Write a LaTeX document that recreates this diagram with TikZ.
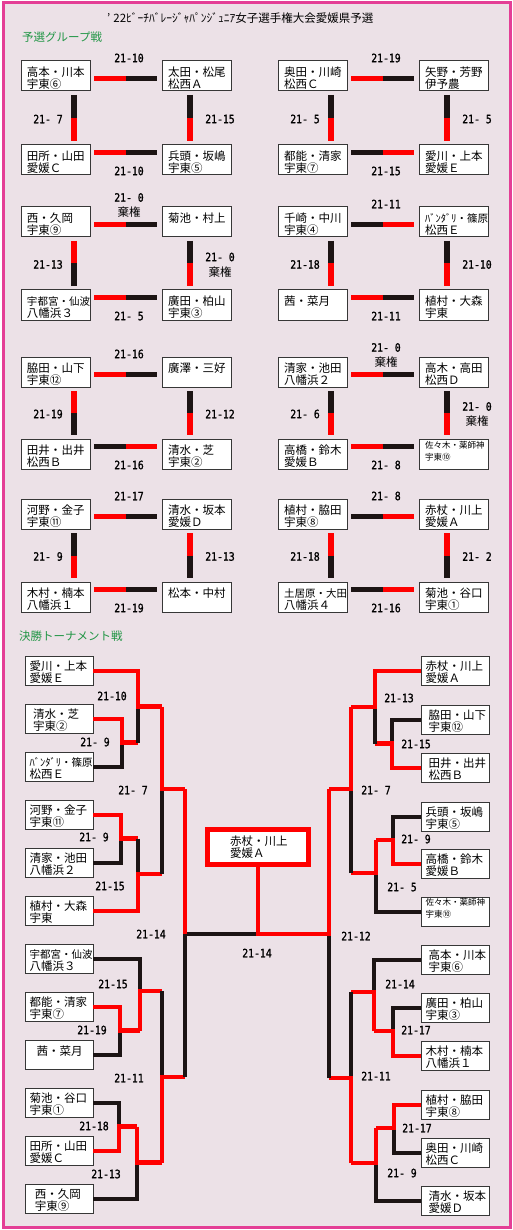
\documentclass[tikz,border=0pt]{standalone}
\usepackage{fontspec}
\setmainfont{Noto Sans CJK JP}
\newfontfamily\scf[FakeStretch=0.85,FakeBold=1.2]{DejaVu Sans Mono}
\usetikzlibrary{calc}
\definecolor{bgc}{RGB}{236,225,231}
\definecolor{framec}{RGB}{228,62,150}
\definecolor{grn}{RGB}{34,150,70}
\definecolor{rd}{RGB}{255,0,0}
\definecolor{bk}{RGB}{28,20,20}
\definecolor{boxc}{RGB}{55,55,55}
\newcommand\bxt[2]{\rule{0pt}{13pt}#1\\\mbox{}#2}
\newcommand\sml[1]{{\fontsize{10.5}{12}\selectfont #1}}
\newcommand\hpair[5]{%
  \coordinate (hA) at ($(#1.north east)+(4,#3)$);
  \coordinate (hB0) at ($(#2.north west)+(-5,0)$);
  \coordinate (hB) at (hA -| hB0);
  \coordinate (hM) at ($(hA)!0.5!(hB)$);
  \draw[bar,draw=#4] (hA) -- (hM);
  \draw[bar,draw=#5] (hM) -- (hB);}
\newcommand\vpair[5]{%
  \coordinate (vA) at ($(#1.south west)+(#3,4)$);
  \coordinate (vB0) at ($(#2.north west)+(0,-4)$);
  \coordinate (vB) at (vA |- vB0);
  \coordinate (vM) at ($(vA)!0.5!(vB)$);
  \draw[bar,draw=#4] (vA) -- (vM);
  \draw[bar,draw=#5] (vM) -- (vB);}
\tikzset{
  gbox/.style={draw=boxc, line width=1pt, fill=white, anchor=north west, outer sep=0pt,
    minimum height=30pt, text width=57pt, inner xsep=6pt, inner ysep=0pt, align=left,
    font=\fontsize{11.5}{12}\selectfont},
  tbox/.style={gbox, minimum height=29.5pt, text width=59pt, inner xsep=4.5pt},
  smallbox/.style={font=\fontsize{8.5}{12}\selectfont},
  sc/.style={font=\scf\fontsize{11.5}{12}\selectfont, inner sep=0pt},
  kk/.style={font=\fontsize{11.5}{12}\selectfont, inner sep=0pt},
  head/.style={font=\fontsize{11.5}{12}\selectfont, text=grn, anchor=west, inner sep=0pt},
  bar/.style={line width=5.5pt},
  win/.style={draw=rd, line width=4.5pt},
  lose/.style={draw=bk, line width=4.5pt},
}
\begin{document}
\begin{tikzpicture}[x=1pt,y=-1pt]
\useasboundingbox (0,0) rectangle (513,1230);
\draw[fill=bgc, draw=framec, line width=3pt] (3,3) rectangle (510,1227);

\node[anchor=west, inner sep=0pt, font=\fontsize{11.5}{12}\selectfont] (title) at (107,18)
  {’\hspace{3pt}22ﾋﾞｰﾁﾊﾞﾚｰｼﾞｬﾊﾟﾝｼﾞｭﾆｱ女子選手権大会愛媛県予選};
\node[head] (h1) at (22,37) {予選グループ戦};
\node[head] (h2) at (19,636) {決勝トーナメント戦};

% ---------------- group stage ----------------
% row 1 left
\node[gbox] (p11) at (21,61) {\bxt{高本・川本}{宇東⑥}};
\node[gbox] (p12) at (162,61) {\bxt{太田・松尾}{松西Ａ}};
\node[gbox] (p13) at (21,145) {\bxt{田所・山田}{愛媛Ｃ}};
\node[gbox] (p14) at (162,145) {\bxt{兵頭・坂嶋}{宇東⑤}};
\hpair{p11}{p12}{17.5}{rd}{bk}
\vpair{p11}{p13}{53}{bk}{rd}
\vpair{p12}{p14}{28}{bk}{rd}
\hpair{p13}{p14}{7.5}{rd}{bk}
\node[sc] (s11) at (129,58) {21-10};
\node[sc] (s12) at (48,119) {21- 7};
\node[sc] (s13) at (220,119) {21-15};
\node[sc] (s14) at (129,171) {21-10};
% row 1 right
\node[gbox] (q11) at (278,61) {\bxt{奥田・川崎}{松西Ｃ}};
\node[gbox] (q12) at (419,61) {\bxt{矢野・芳野}{伊予農}};
\node[gbox] (q13) at (278,145) {\bxt{都能・清家}{宇東⑦}};
\node[gbox] (q14) at (419,145) {\bxt{愛川・上本}{愛媛Ｅ}};
\hpair{q11}{q12}{17.5}{rd}{bk}
\vpair{q11}{q13}{53}{bk}{rd}
\vpair{q12}{q14}{28}{bk}{rd}
\hpair{q13}{q14}{7.5}{bk}{rd}
\node[sc] (t11) at (386,58) {21-19};
\node[sc] (t12) at (305,119) {21- 5};
\node[sc] (t13) at (477,119) {21- 5};
\node[sc] (t14) at (386,171) {21-15};
% row 2 left
\node[gbox] (p21) at (21,207) {\bxt{西・久岡}{宇東⑨}};
\node[gbox] (p22) at (162,207) {\bxt{菊池・村上}{}};
\node[gbox] (p23) at (21,290) {\bxt{\sml{宇都宮・仙波}}{八幡浜３}};
\node[gbox] (p24) at (162,290) {\bxt{廣田・柏山}{宇東③}};
\hpair{p21}{p22}{17.5}{rd}{bk}
\vpair{p21}{p23}{53}{rd}{bk}
\vpair{p22}{p24}{28}{bk}{rd}
\hpair{p23}{p24}{7.5}{rd}{bk}
\node[sc] (s21) at (129,197.5) {21- 0};
\node[kk] (k21) at (129,212.5) {棄権};
\node[sc] (s22) at (48,264.5) {21-13};
\node[sc] (s23) at (220,257) {21- 0};
\node[kk] (k23) at (220,272) {棄権};
\node[sc] (s24) at (129,316) {21- 5};
% row 2 right
\node[gbox] (q21) at (278,207) {\bxt{千崎・中川}{宇東④}};
\node[gbox] (q22) at (419,207) {\bxt{\sml{ﾊﾞﾝﾀﾞﾘ・篠原}}{松西Ｅ}};
\node[gbox] (q23) at (278,290) {\bxt{茜・菜月}{}};
\node[gbox] (q24) at (419,290) {\bxt{植村・大森}{宇東}};
\hpair{q21}{q22}{17.5}{bk}{rd}
\vpair{q21}{q23}{53}{bk}{rd}
\vpair{q22}{q24}{28}{bk}{rd}
\hpair{q23}{q24}{7.5}{rd}{bk}
\node[sc] (t21) at (386,204) {21-11};
\node[sc] (t22) at (305,264.5) {21-18};
\node[sc] (t23) at (477,264.5) {21-10};
\node[sc] (t24) at (386,316) {21-11};
% row 3 left
\node[gbox] (p31) at (21,357) {\bxt{脇田・山下}{宇東⑫}};
\node[gbox] (p32) at (162,357) {\bxt{廣澤・三好}{}};
\node[gbox] (p33) at (21,439) {\bxt{田井・出井}{松西Ｂ}};
\node[gbox] (p34) at (162,439) {\bxt{清水・芝}{宇東②}};
\hpair{p31}{p32}{17.5}{rd}{bk}
\vpair{p31}{p33}{53}{rd}{bk}
\vpair{p32}{p34}{28}{bk}{rd}
\hpair{p33}{p34}{7.5}{bk}{rd}
\node[sc] (s31) at (129,354) {21-16};
\node[sc] (s32) at (48,414) {21-19};
\node[sc] (s33) at (220,414) {21-12};
\node[sc] (s34) at (129,465) {21-16};
% row 3 right
\node[gbox] (q31) at (278,357) {\bxt{清家・池田}{八幡浜２}};
\node[gbox] (q32) at (419,357) {\bxt{高木・高田}{松西Ｄ}};
\node[gbox] (q33) at (278,439) {\bxt{高橋・鈴木}{愛媛Ｂ}};
\node[gbox,smallbox] (q34) at (419,439) {佐々木・薬師神\\宇東⑩\rule[-7pt]{0pt}{0pt}};
\hpair{q31}{q32}{17.5}{rd}{bk}
\vpair{q31}{q33}{53}{bk}{rd}
\vpair{q32}{q34}{28}{bk}{rd}
\hpair{q33}{q34}{7.5}{rd}{bk}
\node[sc] (t31) at (386,347.5) {21- 0};
\node[kk] (m31) at (386,362.5) {棄権};
\node[sc] (t32) at (305,414) {21- 6};
\node[sc] (t33) at (477,406.5) {21- 0};
\node[kk] (m33) at (477,421.5) {棄権};
\node[sc] (t34) at (386,465) {21- 8};
% row 4 left
\node[gbox] (p41) at (21,499) {\bxt{河野・金子}{宇東⑪}};
\node[gbox] (p42) at (162,499) {\bxt{清水・坂本}{愛媛Ｄ}};
\node[gbox] (p43) at (21,582) {\bxt{木村・楠本}{八幡浜１}};
\node[gbox] (p44) at (162,582) {\bxt{松本・中村}{}};
\hpair{p41}{p42}{17.5}{rd}{bk}
\vpair{p41}{p43}{53}{bk}{rd}
\vpair{p42}{p44}{28}{rd}{bk}
\hpair{p43}{p44}{7.5}{rd}{bk}
\node[sc] (s41) at (129,496) {21-17};
\node[sc] (s42) at (48,556.5) {21- 9};
\node[sc] (s43) at (220,556.5) {21-13};
\node[sc] (s44) at (129,608) {21-19};
% row 4 right
\node[gbox] (q41) at (278,499) {\bxt{植村・脇田}{宇東⑧}};
\node[gbox] (q42) at (419,499) {\bxt{赤杖・川上}{愛媛Ａ}};
\node[gbox] (q43) at (278,582) {\bxt{\sml{土居原・大田}}{八幡浜４}};
\node[gbox] (q44) at (419,582) {\bxt{菊池・谷口}{宇東①}};
\hpair{q41}{q42}{17.5}{bk}{rd}
\vpair{q41}{q43}{53}{rd}{bk}
\vpair{q42}{q44}{28}{rd}{bk}
\hpair{q43}{q44}{7.5}{bk}{rd}
\node[sc] (t41) at (386,496) {21- 8};
\node[sc] (t42) at (305,556.5) {21-18};
\node[sc] (t43) at (477,556.5) {21- 2};
\node[sc] (t44) at (386,608) {21-16};

% ---------------- tournament ----------------
\node[tbox] (l1) at (25,656) {\bxt{愛川・上本}{愛媛Ｅ}};
\node[tbox] (l2) at (25,704) {\bxt{\hspace*{3.5pt}清水・芝}{\hspace*{3.5pt}宇東②}};
\node[tbox] (l3) at (25,752) {\bxt{\sml{ﾊﾞﾝﾀﾞﾘ・篠原}}{松西Ｅ}};
\node[tbox] (l4) at (25,800) {\bxt{河野・金子}{宇東⑪}};
\node[tbox] (l5) at (25,848) {\bxt{清家・池田}{八幡浜２}};
\node[tbox] (l6) at (25,896) {\bxt{植村・大森}{宇東}};
\node[tbox] (l7) at (25,944) {\bxt{\sml{宇都宮・仙波}}{八幡浜３}};
\node[tbox] (l8) at (25,992) {\bxt{都能・清家}{宇東⑦}};
\node[tbox] (l9) at (25,1040) {\bxt{\hspace*{7pt}茜・菜月}{}};
\node[tbox] (l10) at (25,1088) {\bxt{菊池・谷口}{宇東①}};
\node[tbox] (l11) at (25,1136) {\bxt{田所・山田}{愛媛Ｃ}};
\node[tbox] (l12) at (25,1184) {\bxt{\hspace*{5.5pt}西・久岡}{\hspace*{5.5pt}宇東⑨}};

\node[tbox] (r1) at (421,656) {\bxt{赤杖・川上}{愛媛Ａ}};
\node[tbox] (r2) at (421,705) {\bxt{\hspace*{3pt}脇田・山下}{\hspace*{3pt}宇東⑫}};
\node[tbox] (r3) at (421,753) {\bxt{\hspace*{3pt}田井・出井}{\hspace*{3pt}松西Ｂ}};
\node[tbox] (r4) at (421,802) {\bxt{兵頭・坂嶋}{宇東⑤}};
\node[tbox] (r5) at (421,849) {\bxt{高橋・鈴木}{愛媛Ｂ}};
\node[tbox,smallbox] (r6) at (421,897) {佐々木・薬師神\\宇東⑩\rule[-7pt]{0pt}{0pt}};
\node[tbox] (r7) at (421,945) {\bxt{\hspace*{3pt}高本・川本}{\hspace*{3pt}宇東⑥}};
\node[tbox] (r8) at (421,993) {\bxt{廣田・柏山}{宇東③}};
\node[tbox] (r9) at (421,1041) {\bxt{木村・楠本}{八幡浜１}};
\node[tbox] (r10) at (421,1090) {\bxt{植村・脇田}{宇東⑧}};
\node[tbox] (r11) at (421,1138) {\bxt{奥田・川崎}{松西Ｃ}};
\node[tbox] (r12) at (421,1186) {\bxt{\hspace*{3pt}清水・坂本}{\hspace*{3pt}愛媛Ｄ}};

\node[draw=rd, line width=5pt, fill=white, anchor=north west, outer sep=0pt,
  minimum width=101pt, minimum height=35pt, text width=56pt, inner xsep=22.5pt,
  inner ysep=0pt, align=left, font=\fontsize{11.5}{12}\selectfont]
  (ch) at (207.5,829.5) {赤杖・川上\\愛媛Ａ};

% junctions left
\coordinate (jA) at (122,742.5);
\coordinate (jA1) at (138,706.5);
\coordinate (jB) at (121,838.5);
\coordinate (jC) at (138,874);
\coordinate (jD) at (162,789);
\coordinate (jE) at (120,1030.5);
\coordinate (jF) at (140,991);
\coordinate (jG) at (119,1126.5);
\coordinate (jH) at (137,1162.5);
\coordinate (jI) at (162,1077);
\coordinate (jL) at (185,934);
\coordinate (jT) at (ch.south |- jL);
% junctions right
\coordinate (ka) at (392,743.5);
\coordinate (kb) at (375,707);
\coordinate (kc) at (393,840);
\coordinate (kd) at (376,873);
\coordinate (ke) at (351,789);
\coordinate (kf) at (393,1031);
\coordinate (kg) at (374,992);
\coordinate (kh) at (394,1128);
\coordinate (ki) at (376,1163);
\coordinate (kj) at (351,1078);
\coordinate (kR) at (329,934);

% left bracket
\draw[lose] (l3.east) -| (jA);
\draw[win] (l2.east) -| (jA) -- (jA -| jA1);
\draw[lose] (jA -| jA1) -- (jA1);
\draw[win] (l1.east) -| (jA1) -- (jA1 -| jD);
\draw[lose] (l5.east) -| (jB);
\draw[win] (l4.east) -| (jB) -- (jB -| jC);
\draw[lose] (jB -| jC) -- (jC);
\draw[win] (l6.east) -| (jC) -- (jC -| jD);
\draw[lose] (jC -| jD) -- (jD);
\draw[win] (jA1 -| jD) -- (jD) -- (jD -| jL);
\draw[lose] (l9.east) -| (jE);
\draw[win] (l8.east) -| (jE) -- (jE -| jF);
\draw[lose] (l7.east) -| (jF);
\draw[win] (jE -| jF) -- (jF) -- (jF -| jI);
\draw[lose] (l10.east) -| (jG);
\draw[win] (l11.east) -| (jG) -- (jG -| jH);
\draw[lose] (l12.east) -| (jH);
\draw[win] (jG -| jH) -- (jH) -- (jH -| jI);
\draw[lose] (jF -| jI) -- (jI);
\draw[win] (jH -| jI) -- (jI) -- (jI -| jL);
\draw[lose] (jI -| jL) -- (jL) -- (jT);
\draw[win] (jD -| jL) -- (jL);
% right bracket
\draw[lose] (r2.west) -| (ka);
\draw[win] (r3.west) -| (ka) -- (ka -| kb);
\draw[lose] (ka -| kb) -- (kb);
\draw[win] (r1.west) -| (kb) -- (kb -| ke);
\draw[lose] (r4.west) -| (kc);
\draw[win] (r5.west) -| (kc) -- (kc -| kd);
\draw[lose] (r6.west) -| (kd);
\draw[win] (kc -| kd) -- (kd) -- (kd -| ke);
\draw[lose] (kd -| ke) -- (ke);
\draw[win] (kb -| ke) -- (ke) -- (ke -| kR);
\draw[lose] (r8.west) -| (kf);
\draw[win] (r9.west) -| (kf) -- (kf -| kg);
\draw[lose] (r7.west) -| (kg);
\draw[win] (kf -| kg) -- (kg) -- (kg -| kj);
\draw[lose] (r11.west) -| (kh);
\draw[win] (r10.west) -| (kh) -- (kh -| ki);
\draw[lose] (r12.west) -| (ki);
\draw[win] (kh -| ki) -- (ki) -- (ki -| kj);
\draw[lose] (kg -| kj) -- (kj);
\draw[win] (ki -| kj) -- (kj) -- (kj -| kR);
\draw[lose] (kj -| kR) -- (kR);
\draw[win] (ke -| kR) -- (kR) -- (jT) -- (ch.south);

% tournament scores
\node[sc] (u1) at (112,696) {21-10};
\node[sc] (u2) at (95,742) {21- 9};
\node[sc] (u3) at (133,790) {21- 7};
\node[sc] (u4) at (94,837) {21- 9};
\node[sc] (u5) at (110,886) {21-15};
\node[sc] (u6) at (151,934) {21-14};
\node[sc] (u7) at (113,984) {21-15};
\node[sc] (u8) at (92,1030) {21-19};
\node[sc] (u9) at (129,1078) {21-11};
\node[sc] (u10) at (94,1126) {21-18};
\node[sc] (u11) at (106,1174) {21-13};
\node[sc] (v1) at (399,698) {21-13};
\node[sc] (v2) at (416,744) {21-15};
\node[sc] (v3) at (376,790) {21- 7};
\node[sc] (v4) at (416,839) {21- 9};
\node[sc] (v5) at (402,887) {21- 5};
\node[sc] (v6) at (356,936) {21-12};
\node[sc] (v7) at (400,984) {21-14};
\node[sc] (v8) at (416,1030) {21-17};
\node[sc] (v9) at (376,1076) {21-11};
\node[sc] (v10) at (417,1128) {21-17};
\node[sc] (v11) at (402,1173) {21- 9};
\node[sc] (w1) at (257,953) {21-14};
\end{tikzpicture}
\end{document}
